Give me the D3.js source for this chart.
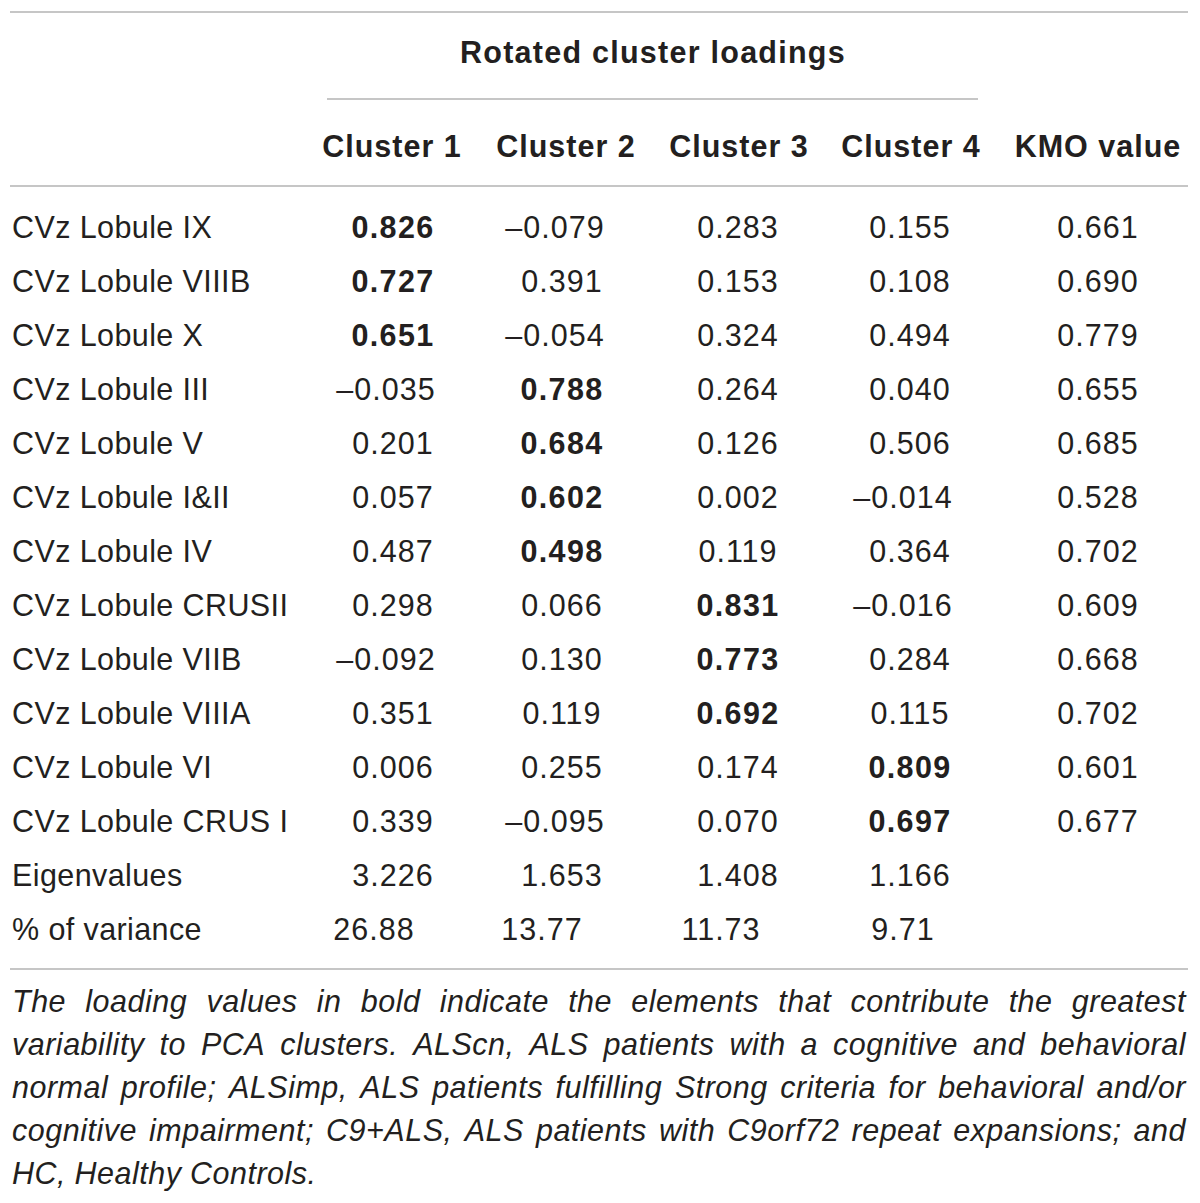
<!DOCTYPE html>
<html lang="en">
<head>
<meta charset="utf-8">
<title>Rotated cluster loadings</title>
<script src="https://d3js.org/d3.v7.min.js"></script>
<style>
  body { margin: 0; background: #fff; }
  text { font-family: "Liberation Sans", Arial, sans-serif; fill: #231f20; }
</style>
</head>
<body>
<svg width="1200" height="1203"></svg>
<script>
// table content
const rowLabels = ["CVz Lobule IX", "CVz Lobule VIIIB", "CVz Lobule X", "CVz Lobule III",
  "CVz Lobule V", "CVz Lobule I&II", "CVz Lobule IV", "CVz Lobule CRUSII",
  "CVz Lobule VIIB", "CVz Lobule VIIIA", "CVz Lobule VI", "CVz Lobule CRUS I"];
const columns = ["Cluster 1", "Cluster 2", "Cluster 3", "Cluster 4", "KMO value"];
const cluster1 = [0.826, 0.727, 0.651, -0.035, 0.201, 0.057, 0.487, 0.298, -0.092, 0.351, 0.006, 0.339];
const cluster2 = [-0.079, 0.391, -0.054, 0.788, 0.684, 0.602, 0.498, 0.066, 0.130, 0.119, 0.255, -0.095];
const cluster3 = [0.283, 0.153, 0.324, 0.264, 0.126, 0.002, 0.119, 0.831, 0.773, 0.692, 0.174, 0.070];
const cluster4 = [0.155, 0.108, 0.494, 0.040, 0.506, -0.014, 0.364, -0.016, 0.284, 0.115, 0.809, 0.697];
const kmo = [0.661, 0.690, 0.779, 0.655, 0.685, 0.528, 0.702, 0.609, 0.668, 0.702, 0.601, 0.677];
const boldCluster = [1, 1, 1, 2, 2, 2, 2, 3, 3, 3, 4, 4];
const eigenvalues = [3.226, 1.653, 1.408, 1.166];
const variance = [26.88, 13.77, 11.73, 9.71];
const footnoteLines = [
  "The loading values in bold indicate the elements that contribute the greatest",
  "variability to PCA clusters. ALScn, ALS patients with a cognitive and behavioral",
  "normal profile; ALSimp, ALS patients fulfilling Strong criteria for behavioral and/or",
  "cognitive impairment; C9+ALS, ALS patients with C9orf72 repeat expansions; and",
  "HC, Healthy Controls."
];

const svg = d3.select("svg");
const lineColor = "#b3b3b3";
const fs = 30.5;

const allRows = rowLabels.concat(["Eigenvalues", "% of variance"]);
const y = d3.scalePoint().domain(allRows).range([238, 940]);
const x = d3.scaleOrdinal().domain(columns).range([393, 562, 738, 910, 1098]);
const headerX = d3.scaleOrdinal().domain(columns).range([392, 566, 739, 911, 1098]);

const f3 = v => d3.format(".3f")(v).replace("\u2212", "\u2013").replace("-", "\u2013");
const f2 = v => d3.format(".2f")(v);

// rules
const rules = [
  {x1: 10, x2: 1188, y: 12},
  {x1: 327, x2: 978, y: 99},
  {x1: 10, x2: 1188, y: 186},
  {x1: 10, x2: 1188, y: 969}
];
svg.selectAll("line.rule").data(rules).join("line")
  .attr("class", "rule")
  .attr("x1", d => d.x1).attr("x2", d => d.x2)
  .attr("y1", d => d.y).attr("y2", d => d.y)
  .attr("stroke", lineColor).attr("stroke-width", 1.6);

// spanning title
svg.append("text")
  .attr("x", 653).attr("y", 63)
  .attr("text-anchor", "middle")
  .attr("font-size", fs).attr("font-weight", "bold")
  .attr("letter-spacing", 1.25)
  .text("Rotated cluster loadings");

// column headers
svg.selectAll("text.head").data(columns).join("text")
  .attr("class", "head")
  .attr("x", d => headerX(d)).attr("y", 157)
  .attr("text-anchor", "middle")
  .attr("font-size", fs).attr("font-weight", "bold")
  .attr("letter-spacing", 1.0)
  .text(d => d);

// row labels
svg.selectAll("text.label").data(allRows).join("text")
  .attr("class", "label")
  .attr("x", 12).attr("y", d => y(d))
  .attr("font-size", fs)
  .attr("letter-spacing", 0.4)
  .text(d => d);

// loading cells
const seriesList = [cluster1, cluster2, cluster3, cluster4, kmo];
const cells = [];
rowLabels.forEach((r, i) => {
  seriesList.forEach((s, j) => {
    cells.push({row: r, col: columns[j], value: s[i], bold: boldCluster[i] === j + 1});
  });
});
svg.selectAll("text.cell").data(cells).join("text")
  .attr("class", "cell")
  .attr("x", d => x(d.col) + (d.value < 0 ? -7 : 0))
  .attr("y", d => y(d.row))
  .attr("text-anchor", "middle")
  .attr("font-size", fs)
  .attr("font-weight", d => d.bold ? "bold" : "normal")
  .attr("letter-spacing", d => d.bold ? 1.3 : 1.0)
  .text(d => f3(d.value));

// eigenvalues and variance
const varianceShift = [-19, -20, -17, -7];
const summary = [];
eigenvalues.forEach((v, j) => summary.push({row: "Eigenvalues", col: columns[j], text: f3(v), dx: 0}));
variance.forEach((v, j) => summary.push({row: "% of variance", col: columns[j], text: f2(v), dx: varianceShift[j]}));
svg.selectAll("text.sum").data(summary).join("text")
  .attr("class", "sum")
  .attr("x", d => x(d.col) + d.dx)
  .attr("y", d => y(d.row))
  .attr("text-anchor", "middle")
  .attr("font-size", fs)
  .attr("letter-spacing", 1.0)
  .text(d => d.text);

// justified italic footnote
const noteLeft = 12, noteRight = 1186, noteFs = 30.5;
const noteG = svg.append("g");
footnoteLines.forEach((line, li) => {
  const words = line.split(" ");
  const by = 1012 + li * 43;
  const nodes = words.map(w => noteG.append("text")
    .attr("y", by)
    .attr("font-size", noteFs)
    .attr("font-style", "italic")
    .attr("letter-spacing", 0.5)
    .text(w));
  const widths = nodes.map(n => n.node().getComputedTextLength());
  const last = li === footnoteLines.length - 1;
  const total = d3.sum(widths);
  const gap = last ? noteFs * 0.28 : (noteRight - noteLeft - total) / (words.length - 1);
  let cx = noteLeft;
  nodes.forEach((n, k) => {
    n.attr("x", cx);
    cx += widths[k] + gap;
  });
});
</script>
</body>
</html>
